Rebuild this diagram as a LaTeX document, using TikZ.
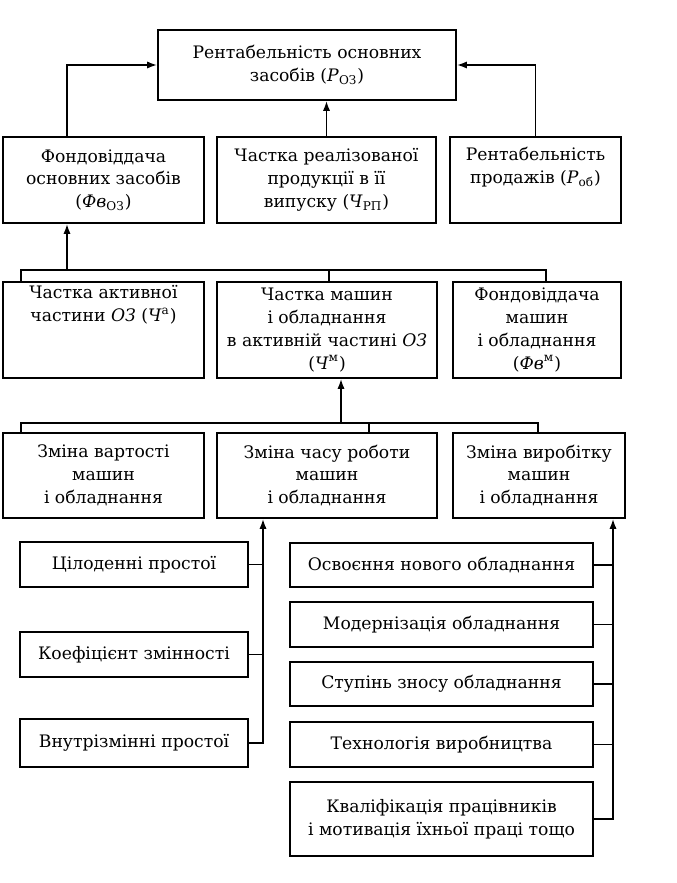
\documentclass[tikz,border=0pt]{standalone}
\usepackage{fontspec}
\setmainfont{DejaVu Serif}
\usetikzlibrary{arrows.meta,calc,positioning}

\tikzset{
  box/.style={draw,line width=0.85pt,align=center,inner sep=1pt,
    font=\fontsize{8.6}{11.4}\selectfont},
  sz/.style 2 args={minimum width=#1*0.5pt,minimum height=#2*0.5pt},
  post/.style={line width=0.85pt,-{Latex[length=5pt,width=3.6pt]}},
  link/.style={line width=0.85pt},
}
\newcommand{\lo}[1]{\textsubscript{#1}}
\newcommand{\hi}[1]{\textsuperscript{#1}}

\begin{document}
\begin{tikzpicture}[x=0.5pt,y=-0.5pt]
%
\useasboundingbox (0,0) rectangle (676,883);
%
\node[box,sz={298}{70}] (v0) at (307,65) {Рентабельність основних\\засобів (\textit{P}\lo{ОЗ})};
%
\node[box,sz={201}{86}] (v1) at (103.5,180) {Фондовіддача\\основних засобів\\(\textit{Фв}\lo{ОЗ})};
\node[box,sz={219}{86}] (v2) at (326.5,180) {Частка реалізованої\\продукції в її\\випуску (\textit{Ч}\lo{РП})};
\node[box,sz={171}{86}] (v3) at (535.5,180) {Рентабельність\\продажів (\textit{P}\lo{об})\\\strut};
%
\node[box,sz={201}{96}] (v4) at (103.5,330) {Частка активної\\частини \textit{ОЗ} (\textit{Ч}\hi{а})\\\strut\\\strut};
\node[box,sz={220}{96}] (v5) at (327,330) {Частка машин\\і обладнання\\в активній частині \textit{ОЗ}\\(\textit{Ч}\hi{м})};
\node[box,sz={168}{96}] (v6) at (537,330) {Фондовіддача\\машин\\і обладнання\\(\textit{Фв}\hi{м})};
%
\node[box,sz={201}{85}] (v7) at (103.5,475.5) {Зміна вартості\\машин\\і обладнання};
\node[box,sz={220}{85}] (v8) at (327,475.5) {Зміна часу роботи\\машин\\і обладнання};
\node[box,sz={172}{85}] (v9) at (539,475.5) {Зміна виробітку\\машин\\і обладнання};
%
\node[box,sz={228}{45}] (p1) at (134,564.5) {Цілоденні простої};
\node[box,sz={228}{45}] (p2) at (134,654.5) {Коефіцієнт змінності};
\node[box,sz={228}{48}] (p3) at (134,743) {Внутрізмінні простої};
%
\node[box,sz={303}{44}] (f1) at (441.5,565) {Освоєння нового обладнання};
\node[box,sz={303}{45}] (f2) at (441.5,624.5) {Модернізація обладнання};
\node[box,sz={303}{44}] (f3) at (441.5,684) {Ступінь зносу обладнання};
\node[box,sz={303}{45}] (f4) at (441.5,744.5) {Технологія виробництва};
\node[box,sz={303}{74}] (f5) at (441.5,819) {Кваліфікація працівників\\і мотивація їхньої праці тощо};
%
\coordinate (ja) at (67,0);
\draw[post] (v1.north -| ja) |- (v0.west);
\draw[post] (v3.north) |- (v0.east);
\draw[post] (v2.north) -- (v2.north |- v0.south);
%
\coordinate (b1) at (67,270);
\coordinate (b1l) at (21,270);
\coordinate (b1m) at (329,270);
\coordinate (b1r) at (546,270);
\draw[post] (b1) -- (b1 |- v1.south);
\draw[link] (b1l |- v4.north) -- (b1l) -- (b1r) -- (b1r |- v6.north);
\draw[link] (b1m) -- (b1m |- v5.north);
%
\coordinate (b2) at (341,423);
\coordinate (b2l) at (21,423);
\coordinate (b2m) at (369,423);
\coordinate (b2r) at (538,423);
\draw[post] (b2) -- (b2 |- v5.south);
\draw[link] (b2l |- v7.north) -- (b2l) -- (b2r) -- (b2r |- v9.north);
\draw[link] (b2m) -- (b2m |- v8.north);
%
\coordinate (la) at (263,0);
\coordinate (ra) at (613,0);
\draw[post] (p3.east) -| (la |- v8.south);
\foreach \n in {p1,p2}
  \draw[link] (\n.east) -- (\n.east -| la);
\draw[post] (f5.east) -| (ra |- v9.south);
\foreach \n in {f1,f2,f3,f4}
  \draw[link] (\n.east) -- (\n.east -| ra);
%
\end{tikzpicture}
\end{document}
